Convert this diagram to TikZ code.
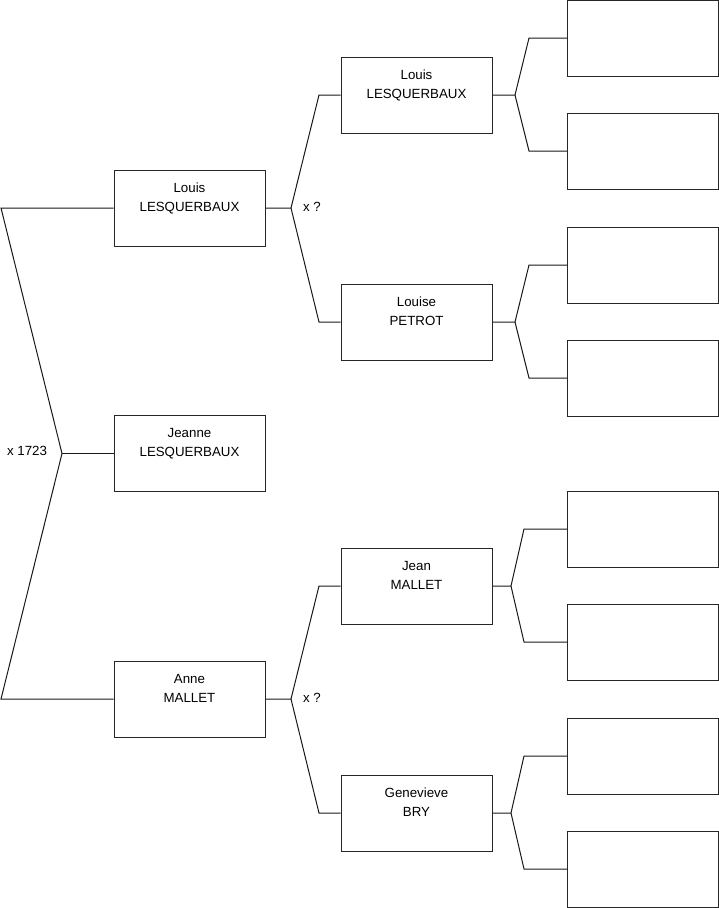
\documentclass[tikz,border=0pt]{standalone}
\usepackage{fontspec}
\setmainfont{Liberation Sans}
\begin{document}
\begin{tikzpicture}[x=1pt,y=-1pt,
  pbox/.style={draw=black!85, line width=1pt, minimum width=151pt, minimum height=76pt, inner sep=0pt, fill=white},
  ptext/.style={anchor=base, inner sep=0pt, font=\fontsize{13.3}{16}\selectfont},
  conn/.style={draw=black!90, line width=1pt},
  marr/.style={inner sep=0pt, font=\fontsize{13.3}{16}\selectfont}]
\useasboundingbox (0,0) rectangle (719,908);
% generation 1
\node[pbox] (A) at (189.5,208) {};
\node[pbox] (J) at (189.5,453.5) {};
\node[pbox] (C) at (189.5,699) {};
% generation 2
\node[pbox] (A1) at (416.5,95) {};
\node[pbox] (A2) at (416.5,322) {};
\node[pbox] (C1) at (416.5,586) {};
\node[pbox] (C2) at (416.5,813) {};
% generation 3
\node[pbox] (g1) at (643,38) {};
\node[pbox] (g2) at (643,151) {};
\node[pbox] (g3) at (643,265) {};
\node[pbox] (g4) at (643,378) {};
\node[pbox] (g5) at (643,529) {};
\node[pbox] (g6) at (643,642) {};
\node[pbox] (g7) at (643,756) {};
\node[pbox] (g8) at (643,869) {};
% texts
\node[ptext] (Aa) at ([yshift=-22.5pt]A.north) {Louis};
\node[ptext] (Ab) at ([yshift=-41.5pt]A.north) {LESQUERBAUX};
\node[ptext] (Ja) at ([yshift=-22.5pt]J.north) {Jeanne};
\node[ptext] (Jb) at ([yshift=-41.5pt]J.north) {LESQUERBAUX};
\node[ptext] (Ca) at ([yshift=-22.5pt]C.north) {Anne};
\node[ptext] (Cb) at ([yshift=-41.5pt]C.north) {MALLET};
\node[ptext] (A1a) at ([yshift=-22.5pt]A1.north) {Louis};
\node[ptext] (A1b) at ([yshift=-41.5pt]A1.north) {LESQUERBAUX};
\node[ptext] (A2a) at ([yshift=-22.5pt]A2.north) {Louise};
\node[ptext] (A2b) at ([yshift=-41.5pt]A2.north) {PETROT};
\node[ptext] (C1a) at ([yshift=-22.5pt]C1.north) {Jean};
\node[ptext] (C1b) at ([yshift=-41.5pt]C1.north) {MALLET};
\node[ptext] (C2a) at ([yshift=-22.5pt]C2.north) {Genevieve};
\node[ptext] (C2b) at ([yshift=-41.5pt]C2.north) {BRY};
% left bracket
\coordinate (t0) at (1,208);
\coordinate (m0) at (62,453.5);
\coordinate (b0) at (1,699);
\draw[conn] (A.west) -- (t0) -- (m0) -- (b0) -- (C.west);
\draw[conn] (m0) -- (J.west);
\node[marr] (x0) at (27,451) {x 1723};
% gen1 -> gen2
\coordinate (jA) at (291,208);
\draw[conn] (A.east) -- (jA) -- (319,95) -- (A1.west);
\draw[conn] (jA) -- (319,322) -- (A2.west);
\node[marr] (xA) at (312,207) {x ?};
\coordinate (jC) at (291,699);
\draw[conn] (C.east) -- (jC) -- (319,586) -- (C1.west);
\draw[conn] (jC) -- (319,813) -- (C2.west);
\node[marr] (xC) at (312,698) {x ?};
% gen2 -> gen3
\coordinate (j1) at (515,95);
\draw[conn] (A1.east) -- (j1) -- (529,38) -- (g1.west);
\draw[conn] (j1) -- (529,151) -- (g2.west);
\coordinate (j2) at (515,322);
\draw[conn] (A2.east) -- (j2) -- (529,265) -- (g3.west);
\draw[conn] (j2) -- (529,378) -- (g4.west);
\coordinate (j3) at (511,586);
\draw[conn] (C1.east) -- (j3) -- (524,529) -- (g5.west);
\draw[conn] (j3) -- (524,642) -- (g6.west);
\coordinate (j4) at (511,813);
\draw[conn] (C2.east) -- (j4) -- (524,756) -- (g7.west);
\draw[conn] (j4) -- (524,869) -- (g8.west);
\end{tikzpicture}
\end{document}
